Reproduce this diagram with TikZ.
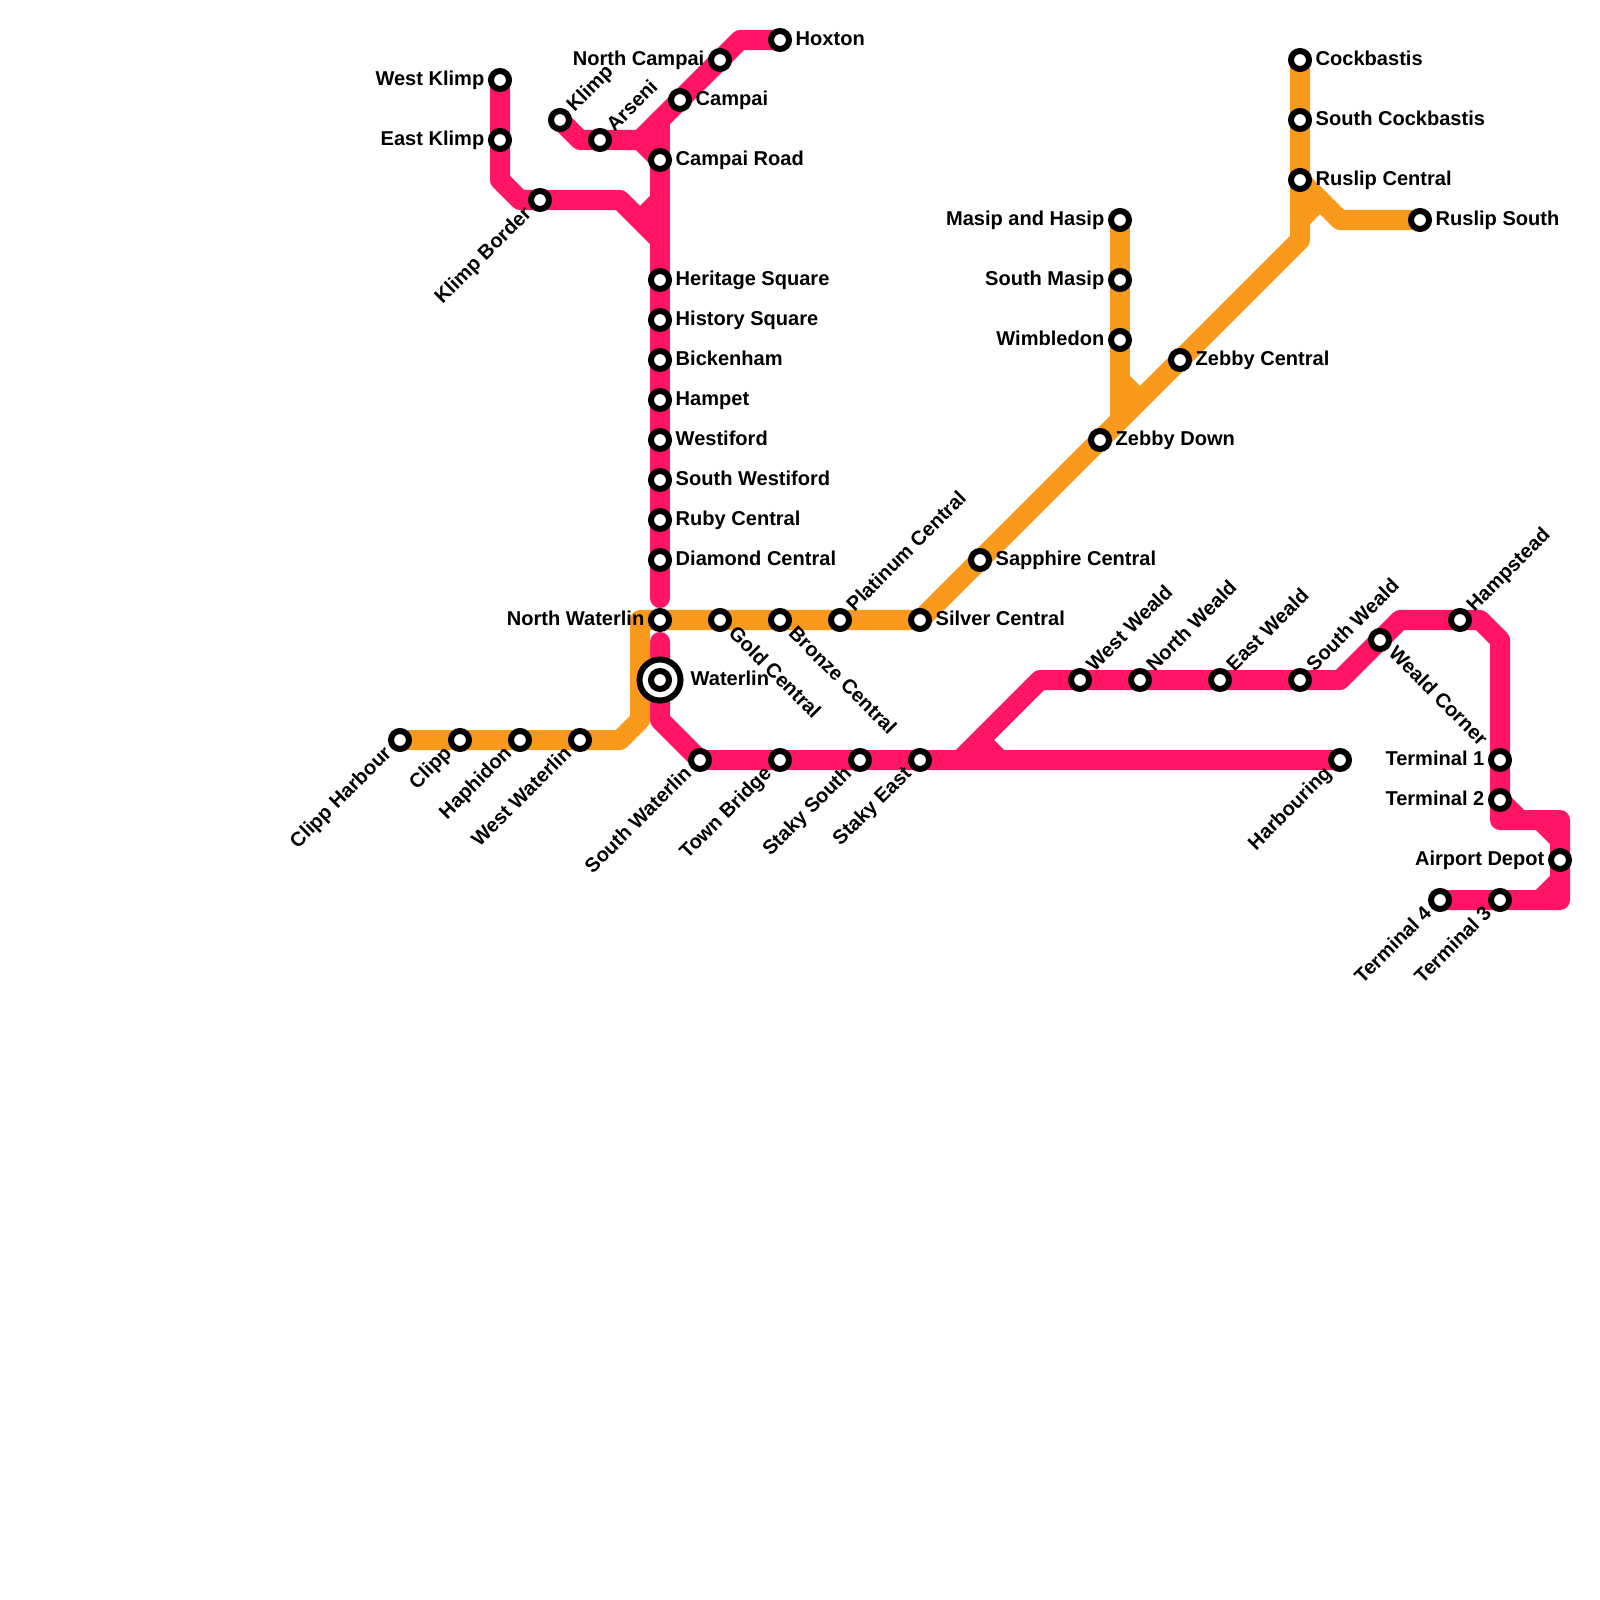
\documentclass[tikz,border=0pt]{standalone}
\usepackage{fontspec}
\setmainfont{Liberation Sans}
\usepackage{xcolor}
\definecolor{mtpink}{RGB}{255,20,102}
\definecolor{mtorange}{RGB}{249,154,28}
\usetikzlibrary{backgrounds}
\tikzset{
  stn/.style={draw=black, fill=white, circle, line width=0.06cm, minimum size=0.18cm, inner sep=0pt},
  hub/.style={draw=black, fill=white, circle, line width=0.06cm, minimum size=0.41cm, inner sep=0pt},
  lbl/.style={font=\fontsize{5.7pt}{6.5pt}\selectfont\bfseries, inner sep=0pt, text=black},
  lblr/.style={lbl, anchor=base west, xshift=0.15cm, yshift=-0.05cm},
  lbll/.style={lbl, anchor=base east, xshift=-0.15cm, yshift=-0.05cm},
  lblur/.style={lbl, rotate=45, anchor=base west, xshift=0.15cm, yshift=-0.05cm},
  lbldl/.style={lbl, rotate=45, anchor=base east, xshift=-0.15cm, yshift=-0.05cm},
  lbldr/.style={lbl, rotate=-45, anchor=base west, xshift=0.15cm, yshift=-0.05cm},
  pinkline/.style={draw=mtpink, line width=0.2cm, line join=round},
  orangeline/.style={draw=mtorange, line width=0.2cm, line join=round}
}
\begin{document}
\begin{tikzpicture}[x=0.01cm, y=-0.01cm]
\useasboundingbox (0,0) rectangle (1600,1600);

% --- Stations, north-west branches ---
\node[stn] (westklimp) at (500,80) {};
\node[lbll] (westklimp-l) at (westklimp) {West Klimp};
\node[stn] (eastklimp) at (500,140) {};
\node[lbll] (eastklimp-l) at (eastklimp) {East Klimp};
\node[stn] (klimpborder) at (540,200) {};
\node[lbldl] (klimpborder-l) at (klimpborder) {Klimp Border};
\node[stn] (klimp) at (560,120) {};
\node[lblur] (klimp-l) at (klimp) {Klimp};
\node[stn] (arseni) at (600,140) {};
\node[lblur] (arseni-l) at (arseni) {Arseni};
\node[stn] (hoxton) at (780,40) {};
\node[lblr] (hoxton-l) at (hoxton) {Hoxton};
\node[stn] (northcampai) at (720,60) {};
\node[lbll] (northcampai-l) at (northcampai) {North Campai};
\node[stn] (campai) at (680,100) {};
\node[lblr] (campai-l) at (campai) {Campai};
\node[stn] (campairoad) at (660,160) {};
\node[lblr] (campairoad-l) at (campairoad) {Campai Road};

% --- Stations, main trunk ---
\node[stn] (heritage) at (660,280) {};
\node[lblr] (heritage-l) at (heritage) {Heritage Square};
\node[stn] (history) at (660,320) {};
\node[lblr] (history-l) at (history) {History Square};
\node[stn] (bickenham) at (660,360) {};
\node[lblr] (bickenham-l) at (bickenham) {Bickenham};
\node[stn] (hampet) at (660,400) {};
\node[lblr] (hampet-l) at (hampet) {Hampet};
\node[stn] (westiford) at (660,440) {};
\node[lblr] (westiford-l) at (westiford) {Westiford};
\node[stn] (southwestiford) at (660,480) {};
\node[lblr] (southwestiford-l) at (southwestiford) {South Westiford};
\node[stn] (ruby) at (660,520) {};
\node[lblr] (ruby-l) at (ruby) {Ruby Central};
\node[stn] (diamond) at (660,560) {};
\node[lblr] (diamond-l) at (diamond) {Diamond Central};
\node[stn] (northwaterlin) at (660,620) {};
\node[lbll] (northwaterlin-l) at (northwaterlin) {North Waterlin};

% Waterlin interchange
\node[hub] (waterlinhub) at (660,680) {};
\node[stn] (waterlin) at (660,680) {};
\node[lblr, xshift=0.15cm] (waterlin-l) at (waterlin) {Waterlin};

% --- Stations, orange line ---
\node[stn] (clippharbour) at (400,740) {};
\node[lbldl] (clippharbour-l) at (clippharbour) {Clipp Harbour};
\node[stn] (clipp) at (460,740) {};
\node[lbldl] (clipp-l) at (clipp) {Clipp};
\node[stn] (haphidon) at (520,740) {};
\node[lbldl] (haphidon-l) at (haphidon) {Haphidon};
\node[stn] (westwaterlin) at (580,740) {};
\node[lbldl] (westwaterlin-l) at (westwaterlin) {West Waterlin};
\node[stn] (gold) at (720,620) {};
\node[lbldr] (gold-l) at (gold) {Gold Central};
\node[stn] (bronze) at (780,620) {};
\node[lbldr] (bronze-l) at (bronze) {Bronze Central};
\node[stn] (platinum) at (840,620) {};
\node[lblur] (platinum-l) at (platinum) {Platinum Central};
\node[stn] (silver) at (920,620) {};
\node[lblr] (silver-l) at (silver) {Silver Central};
\node[stn] (sapphire) at (980,560) {};
\node[lblr] (sapphire-l) at (sapphire) {Sapphire Central};
\node[stn] (zebbydown) at (1100,440) {};
\node[lblr] (zebbydown-l) at (zebbydown) {Zebby Down};
\node[stn] (zebbycentral) at (1180,360) {};
\node[lblr] (zebbycentral-l) at (zebbycentral) {Zebby Central};
\node[stn] (masip) at (1120,220) {};
\node[lbll] (masip-l) at (masip) {Masip and Hasip};
\node[stn] (southmasip) at (1120,280) {};
\node[lbll] (southmasip-l) at (southmasip) {South Masip};
\node[stn] (wimbledon) at (1120,340) {};
\node[lbll] (wimbledon-l) at (wimbledon) {Wimbledon};
\node[stn] (cockbastis) at (1300,60) {};
\node[lblr] (cockbastis-l) at (cockbastis) {Cockbastis};
\node[stn] (southcockbastis) at (1300,120) {};
\node[lblr] (southcockbastis-l) at (southcockbastis) {South Cockbastis};
\node[stn] (ruslip) at (1300,180) {};
\node[lblr] (ruslip-l) at (ruslip) {Ruslip Central};
\node[stn] (ruslipsouth) at (1420,220) {};
\node[lblr] (ruslipsouth-l) at (ruslipsouth) {Ruslip South};

% --- Stations, pink line south and east ---
\node[stn] (southwaterlin) at (700,760) {};
\node[lbldl] (southwaterlin-l) at (southwaterlin) {South Waterlin};
\node[stn] (townbridge) at (780,760) {};
\node[lbldl] (townbridge-l) at (townbridge) {Town Bridge};
\node[stn] (stakysouth) at (860,760) {};
\node[lbldl] (stakysouth-l) at (stakysouth) {Staky South};
\node[stn] (stakyeast) at (920,760) {};
\node[lbldl] (stakyeast-l) at (stakyeast) {Staky East};
\node[stn] (harbouring) at (1340,760) {};
\node[lbldl] (harbouring-l) at (harbouring) {Harbouring};
\node[stn] (westweald) at (1080,680) {};
\node[lblur] (westweald-l) at (westweald) {West Weald};
\node[stn] (northweald) at (1140,680) {};
\node[lblur] (northweald-l) at (northweald) {North Weald};
\node[stn] (eastweald) at (1220,680) {};
\node[lblur] (eastweald-l) at (eastweald) {East Weald};
\node[stn] (southweald) at (1300,680) {};
\node[lblur] (southweald-l) at (southweald) {South Weald};
\node[stn] (wealdcorner) at (1380,640) {};
\node[lbldr] (wealdcorner-l) at (wealdcorner) {Weald Corner};
\node[stn] (hampstead) at (1460,620) {};
\node[lblur] (hampstead-l) at (hampstead) {Hampstead};
\node[stn] (terminal1) at (1500,760) {};
\node[lbll] (terminal1-l) at (terminal1) {Terminal 1};
\node[stn] (terminal2) at (1500,800) {};
\node[lbll] (terminal2-l) at (terminal2) {Terminal 2};
\node[stn] (depot) at (1560,860) {};
\node[lbll] (depot-l) at (depot) {Airport Depot};
\node[stn] (terminal3) at (1500,900) {};
\node[lbldl] (terminal3-l) at (terminal3) {Terminal 3};
\node[stn] (terminal4) at (1440,900) {};
\node[lbldl] (terminal4-l) at (terminal4) {Terminal 4};

% Bends of the lines
\coordinate (klimpbend1) at (500,180);
\coordinate (klimpbend2) at (520,200);
\coordinate (klimpbend3) at (620,200);
\coordinate (klimpjoin) at (640,220);
\coordinate (trunktop) at (660,240);
\coordinate (trunkfork) at (660,200);
\coordinate (arsenibend) at (580,140);
\coordinate (arsenifork) at (640,140);
\coordinate (campaifork) at (660,120);
\coordinate (hoxtonbend) at (740,40);
\coordinate (trunkend) at (660,598);
\coordinate (lowerstart) at (660,642);
\coordinate (lowerbend) at (660,720);
\coordinate (wealdfoot) at (960,760);
\coordinate (wealdtoe) at (980,740);
\coordinate (wealdheel) at (1000,760);
\coordinate (wealdbend) at (1040,680);
\coordinate (cornerbend1) at (1340,680);
\coordinate (cornerbend2) at (1400,620);
\coordinate (cornerbend3) at (1480,620);
\coordinate (cornerbend4) at (1500,640);
\coordinate (airportbend1) at (1500,820);
\coordinate (airportbend2) at (1520,820);
\coordinate (airportbend3) at (1540,820);
\coordinate (airportbend4) at (1560,820);
\coordinate (airportbend5) at (1560,840);
\coordinate (airportbend6) at (1560,880);
\coordinate (airportbend7) at (1560,900);
\coordinate (airportbend8) at (1540,900);
\coordinate (orangebend1) at (620,740);
\coordinate (orangebend2) at (640,720);
\coordinate (orangebend3) at (640,620);
\coordinate (rusliptop) at (1300,240);
\coordinate (ruslipfork) at (1300,220);
\coordinate (ruslipjoin) at (1320,200);
\coordinate (ruslipbend) at (1340,220);
\coordinate (masipbend) at (1120,380);
\coordinate (masipjoin) at (1140,400);
\coordinate (masipfoot) at (1120,420);

\begin{scope}[on background layer]
% --- Pink line ---
\draw[pinkline] (westklimp.center) -- (eastklimp.center) -- (klimpbend1) -- (klimpbend2) -- (klimpborder.center) -- (klimpbend3) -- (trunktop);
\draw[pinkline] (klimpjoin) -- (trunkfork);
\draw[pinkline] (klimp.center) -- (arsenibend) -- (arseni.center) -- (arsenifork) -- (campairoad.center);
\draw[pinkline] (hoxton.center) -- (hoxtonbend) -- (arsenifork);
\draw[pinkline, line cap=round] (campaifork) -- (trunkend);
\draw[pinkline, line cap=round] (lowerstart) -- (lowerbend) -- (southwaterlin.center) -- (harbouring.center);
\draw[pinkline] (wealdfoot) -- (wealdbend) -- (cornerbend1) -- (cornerbend2) -- (cornerbend3) -- (cornerbend4) -- (terminal2.center) -- (airportbend1) -- (airportbend4) -- (airportbend7) -- (terminal4.center);
\draw[pinkline] (wealdtoe) -- (wealdheel);
\draw[pinkline] (terminal2.center) -- (airportbend2);
\draw[pinkline] (airportbend3) -- (airportbend5);
\draw[pinkline] (airportbend6) -- (airportbend8);

% --- Orange line ---
\draw[orangeline] (clippharbour.center) -- (orangebend1) -- (orangebend2) -- (orangebend3) -- (silver.center) -- (rusliptop) -- (cockbastis.center);
\draw[orangeline] (ruslipfork) -- (ruslipjoin);
\draw[orangeline] (ruslip.center) -- (ruslipbend) -- (ruslipsouth.center);
\draw[orangeline] (masip.center) -- (masipfoot);
\draw[orangeline] (masipbend) -- (masipjoin);
\end{scope}

\end{tikzpicture}
\end{document}
